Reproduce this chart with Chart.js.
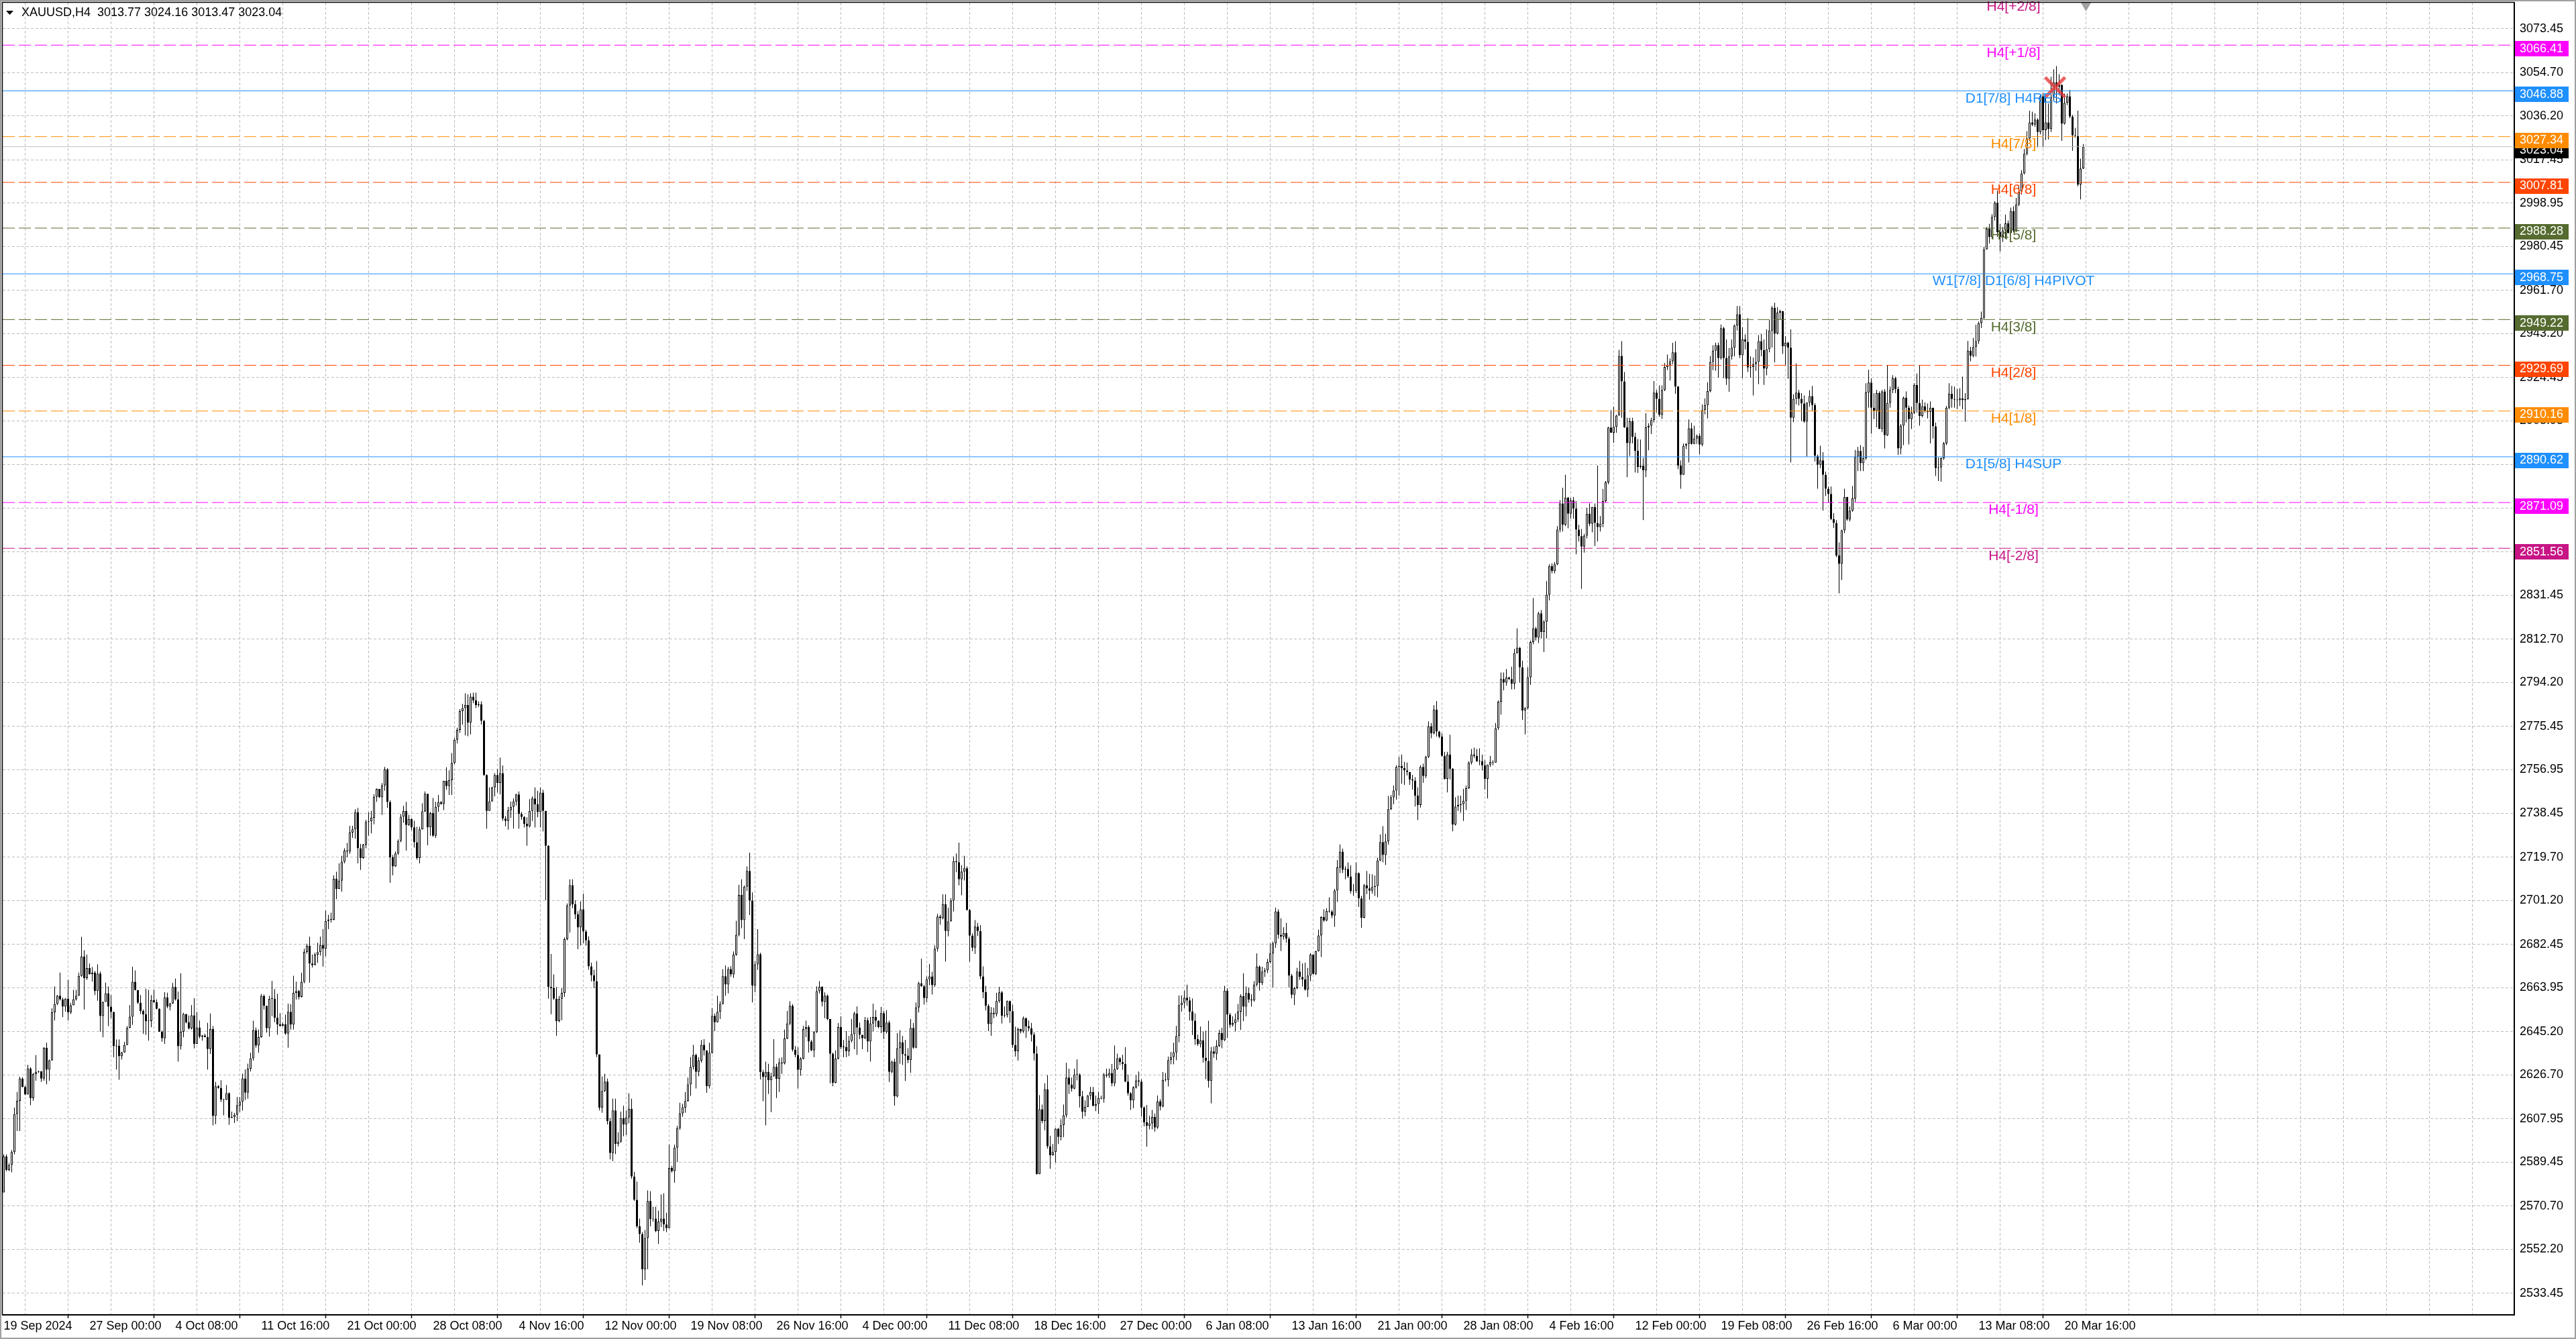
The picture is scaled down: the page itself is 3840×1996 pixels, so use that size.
<!DOCTYPE html>
<html>
<head>
<meta charset="utf-8">
<title>XAUUSD,H4</title>
<script src="https://cdn.jsdelivr.net/npm/chart.js@4.4.1/dist/chart.umd.min.js"></script>
<style>
    html, body { margin: 0; padding: 0; background: #ffffff; overflow: hidden; }
    #wrap { width: 3840px; height: 1996px; }
</style>
</head>
<body>
<div id="wrap"><canvas id="myChart" width="3840" height="1996"></canvas></div>
<script>
// symbol, timeframe and the current bar
const symbol = 'XAUUSD';
const timeframe = 'H4';
const firstOpen = 2582.0;
const lastOpen = 3013.77;

// H4 closes, one per bar (bar 0 = 19 Sep 2024 12:00)
const closes = [
    2576.5,
    2591.8, 2586.1, 2588.2, 2593.7, 2609.9, 2615.6, 2625.1, 2621.5, 2618.3, 2629.4,
    2616.7, 2627.0, 2628.0, 2628.2, 2625.1, 2638.2, 2628.9, 2632.9, 2653.4, 2657.0,
    2660.5, 2658.9, 2655.8, 2659.2, 2653.4, 2656.4, 2658.9, 2660.5, 2668.9, 2677.2,
    2668.0, 2672.3, 2669.7, 2670.4, 2662.5, 2669.9, 2651.8, 2657.8, 2661.5, 2655.8,
    2653.5, 2638.9, 2639.1, 2634.6, 2636.3, 2639.4, 2646.7, 2651.5, 2666.4, 2662.9,
    2657.5, 2654.0, 2652.5, 2649.5, 2649.7, 2658.6, 2657.7, 2654.9, 2645.1, 2642.3,
    2659.8, 2655.8, 2657.2, 2664.2, 2658.9, 2638.9, 2645.1, 2652.7, 2649.1, 2646.5,
    2652.1, 2639.9, 2646.9, 2642.9, 2643.5, 2642.8, 2637.7, 2646.2, 2609.1, 2621.8,
    2621.1, 2616.1, 2616.0, 2618.9, 2608.4, 2608.6, 2609.6, 2613.6, 2615.2, 2625.1,
    2619.1, 2629.3, 2633.8, 2645.7, 2639.2, 2642.8, 2660.4, 2656.2, 2646.6, 2659.1,
    2659.1, 2651.1, 2648.2, 2647.6, 2648.2, 2644.3, 2653.6, 2648.2, 2661.7, 2662.5,
    2660.0, 2666.4, 2679.2, 2681.8, 2674.2, 2673.5, 2678.0, 2679.1, 2682.1, 2680.5,
    2692.4, 2692.9, 2692.9, 2710.4, 2706.1, 2709.6, 2717.7, 2722.4, 2722.1, 2730.2,
    2731.5, 2738.8, 2723.4, 2719.3, 2725.0, 2734.7, 2735.0, 2736.5, 2745.4, 2748.8,
    2745.2, 2750.3, 2757.1, 2743.2, 2719.6, 2715.7, 2721.2, 2726.6, 2736.9, 2739.3,
    2733.4, 2736.0, 2732.4, 2726.0, 2719.3, 2731.5, 2739.2, 2746.7, 2732.4, 2738.5,
    2728.8, 2741.1, 2743.1, 2742.4, 2752.2, 2750.0, 2752.5, 2759.9, 2769.8, 2774.0,
    2782.0, 2783.3, 2784.6, 2777.1, 2788.2, 2786.6, 2784.6, 2784.9, 2777.9, 2754.7,
    2739.4, 2743.4, 2749.4, 2754.7, 2751.4, 2755.5, 2736.1, 2735.1, 2739.7, 2741.1,
    2743.4, 2746.4, 2738.1, 2736.8, 2733.9, 2732.8, 2739.4, 2744.7, 2742.2, 2738.9,
    2747.2, 2739.4, 2724.5, 2664.2, 2663.7, 2659.2, 2649.7, 2659.2, 2661.7, 2684.6,
    2699.0, 2707.7, 2699.5, 2695.2, 2689.6, 2697.4, 2687.9, 2684.1, 2673.0, 2669.2,
    2666.7, 2635.4, 2612.7, 2619.8, 2623.8, 2606.9, 2593.3, 2611.5, 2597.2, 2598.2,
    2608.2, 2605.5, 2608.5, 2612.2, 2583.3, 2573.3, 2562.0, 2558.7, 2543.7, 2557.0,
    2572.8, 2565.0, 2565.3, 2560.0, 2564.0, 2565.3, 2562.8, 2561.2, 2586.9, 2585.6,
    2595.6, 2603.9, 2610.2, 2612.7, 2615.5, 2622.6, 2630.1, 2635.2, 2628.0, 2632.8,
    2639.5, 2637.1, 2621.8, 2636.1, 2651.9, 2649.2, 2653.6, 2657.0, 2668.8, 2665.3,
    2671.9, 2669.6, 2678.0, 2686.5, 2703.5, 2692.8, 2707.0, 2713.8, 2701.1, 2664.8,
    2673.9, 2678.2, 2627.8, 2625.9, 2628.0, 2624.4, 2626.1, 2630.1, 2625.0, 2632.0,
    2631.6, 2642.2, 2648.6, 2656.2, 2637.4, 2635.2, 2628.8, 2633.6, 2646.2, 2647.1,
    2640.9, 2637.1, 2645.0, 2662.4, 2664.3, 2657.8, 2660.5, 2650.5, 2635.7, 2623.3,
    2633.6, 2647.1, 2638.5, 2638.5, 2636.8, 2641.2, 2644.1, 2652.9, 2646.9, 2643.8,
    2642.3, 2650.0, 2640.9, 2648.6, 2651.4, 2649.8, 2647.1, 2653.0, 2645.0, 2649.0,
    2628.0, 2632.3, 2617.5, 2638.1, 2640.6, 2635.5, 2634.9, 2633.0, 2646.7, 2638.3,
    2655.5, 2665.8, 2664.5, 2659.5, 2667.5, 2668.7, 2665.0, 2680.5, 2694.3, 2693.6,
    2699.6, 2688.1, 2692.2, 2701.1, 2717.9, 2717.5, 2710.2, 2713.5, 2714.9, 2697.1,
    2686.1, 2681.0, 2690.0, 2688.1, 2668.7, 2662.0, 2656.2, 2648.4, 2653.2, 2652.6,
    2658.2, 2661.9, 2651.9, 2652.2, 2658.2, 2653.9, 2639.4, 2636.8, 2646.2, 2645.2,
    2650.9, 2647.4, 2646.6, 2643.9, 2635.8, 2584.3, 2612.0, 2607.0, 2620.5, 2596.2,
    2592.4, 2593.7, 2603.7, 2600.2, 2605.2, 2609.4, 2625.5, 2622.5, 2620.8, 2626.8,
    2626.8, 2617.5, 2611.0, 2613.0, 2617.8, 2619.3, 2613.4, 2614.2, 2616.8, 2616.5,
    2626.8, 2626.3, 2627.5, 2623.1, 2629.1, 2633.8, 2632.1, 2631.3, 2623.8, 2618.8,
    2615.8, 2621.3, 2624.3, 2623.8, 2612.7, 2606.4, 2605.0, 2606.0, 2608.7, 2604.2,
    2615.3, 2613.2, 2624.5, 2624.5, 2633.0, 2634.3, 2636.3, 2643.2, 2656.5, 2657.5,
    2659.6, 2658.5, 2653.7, 2649.8, 2641.9, 2639.8, 2641.4, 2634.0, 2632.6, 2624.1,
    2636.7, 2635.7, 2639.1, 2644.5, 2641.5, 2662.6, 2652.4, 2648.0, 2648.8, 2650.4,
    2653.7, 2660.3, 2655.8, 2661.6, 2658.8, 2658.5, 2665.2, 2672.9, 2666.0, 2670.8,
    2671.3, 2674.9, 2678.5, 2682.8, 2696.4, 2686.5, 2685.7, 2687.2, 2684.8, 2669.1,
    2660.9, 2663.7, 2670.8, 2668.5, 2667.4, 2663.1, 2669.1, 2678.0, 2669.8, 2679.5,
    2686.2, 2694.1, 2692.6, 2696.7, 2696.4, 2694.7, 2705.4, 2715.3, 2722.0, 2714.3,
    2714.6, 2711.4, 2705.1, 2705.3, 2712.8, 2702.0, 2693.8, 2707.7, 2706.3, 2705.3,
    2706.9, 2707.3, 2718.2, 2726.1, 2720.6, 2726.4, 2740.1, 2745.2, 2748.1, 2758.2,
    2758.6, 2757.7, 2756.7, 2756.0, 2752.8, 2752.4, 2745.9, 2741.9, 2758.2, 2754.3,
    2762.5, 2775.5, 2772.6, 2782.7, 2773.3, 2771.1, 2762.9, 2753.1, 2763.5, 2757.4,
    2733.6, 2741.3, 2741.9, 2742.3, 2743.7, 2749.1, 2760.0, 2763.5, 2762.9, 2760.6,
    2760.6, 2758.9, 2753.1, 2759.2, 2760.3, 2760.0, 2774.7, 2786.0, 2795.7, 2794.2,
    2796.4, 2795.7, 2793.8, 2806.8, 2809.1, 2800.7, 2782.2, 2783.4, 2796.4, 2811.5,
    2817.3, 2813.4, 2823.8, 2815.8, 2820.2, 2831.7, 2844.0, 2841.8, 2844.7, 2859.5,
    2870.7, 2861.6, 2873.1, 2866.3, 2872.0, 2868.5, 2859.5, 2856.7, 2852.3, 2856.9,
    2866.3, 2862.0, 2869.2, 2862.4, 2860.6, 2862.0, 2871.7, 2879.7, 2903.1, 2900.9,
    2903.4, 2908.2, 2933.7, 2922.8, 2903.2, 2896.5, 2905.8, 2899.1, 2893.2, 2886.3,
    2886.8, 2884.8, 2903.2, 2903.9, 2906.3, 2918.0, 2915.4, 2908.5, 2919.2, 2929.0,
    2929.9, 2931.4, 2935.2, 2920.6, 2886.9, 2882.9, 2895.3, 2896.1, 2902.8, 2896.1,
    2898.4, 2899.6, 2895.8, 2910.6, 2912.7, 2918.7, 2931.1, 2935.9, 2938.3, 2932.8,
    2945.5, 2932.8, 2924.0, 2933.5, 2937.2, 2946.7, 2951.5, 2934.0, 2940.7, 2939.7,
    2928.8, 2929.0, 2930.2, 2931.1, 2940.0, 2936.2, 2928.3, 2936.6, 2944.5, 2954.3,
    2943.3, 2952.2, 2952.8, 2937.8, 2939.3, 2937.2, 2907.3, 2915.4, 2918.0, 2915.4,
    2913.4, 2905.6, 2913.7, 2916.5, 2912.7, 2891.0, 2887.2, 2889.1, 2882.9, 2877.0,
    2874.8, 2864.0, 2862.4, 2848.5, 2844.9, 2859.2, 2873.5, 2863.8, 2867.6, 2872.8,
    2890.7, 2893.1, 2887.9, 2890.0, 2918.1, 2922.3, 2911.6, 2910.2, 2917.8, 2902.5,
    2918.5, 2899.8, 2913.6, 2919.2, 2924.1, 2919.5, 2894.2, 2903.9, 2915.8, 2911.6,
    2906.7, 2909.5, 2921.3, 2913.6, 2908.1, 2912.2, 2910.2, 2909.8, 2911.6, 2903.6,
    2885.8, 2886.1, 2890.0, 2896.3, 2911.6, 2917.5, 2915.3, 2915.0, 2914.8, 2915.6,
    2914.8, 2915.3, 2935.9, 2933.8, 2937.5, 2940.0, 2947.7, 2950.0, 2979.2, 2988.0,
    2984.5, 2993.1, 2999.1, 2986.6, 2984.5, 2987.3, 2990.3, 2986.2, 2995.6, 2987.3,
    2998.4, 3003.9, 3011.6, 3020.0, 3026.5, 3033.4, 3032.5, 3034.6, 3029.3, 3044.6,
    3030.1, 3033.4, 3030.6, 3044.3, 3050.5, 3048.7, 3049.5, 3032.9, 3041.8, 3044.6,
    3035.9, 3027.9, 3027.6, 3006.8, 3013.7, 3023.04
];

const highs = [
    2583.0,
    2592.7, 2592.7, 2588.9, 2594.6, 2612.7, 2619.4, 2625.9, 2625.6, 2622.1, 2631.0,
    2629.9, 2627.5, 2635.1, 2628.5, 2628.0, 2638.5, 2640.4, 2633.2, 2655.1, 2664.4,
    2660.8, 2670.4, 2659.6, 2659.4, 2667.3, 2657.5, 2663.0, 2663.0, 2670.4, 2685.6,
    2679.9, 2678.0, 2674.2, 2672.7, 2671.0, 2673.9, 2670.8, 2658.0, 2666.1, 2664.4,
    2660.8, 2653.7, 2641.8, 2641.8, 2636.5, 2640.8, 2647.5, 2656.5, 2672.9, 2671.3,
    2662.7, 2660.8, 2654.6, 2663.4, 2663.0, 2660.8, 2663.0, 2658.9, 2655.1, 2645.6,
    2662.0, 2661.8, 2657.5, 2665.9, 2667.8, 2662.3, 2670.1, 2653.2, 2651.3, 2652.0,
    2656.5, 2659.4, 2653.5, 2649.9, 2643.7, 2644.2, 2648.9, 2652.9, 2647.5, 2623.7,
    2622.3, 2624.4, 2616.5, 2622.3, 2619.2, 2611.0, 2610.4, 2617.2, 2617.2, 2627.2,
    2629.0, 2631.5, 2636.1, 2649.8, 2646.9, 2646.0, 2661.2, 2661.0, 2652.0, 2660.4,
    2666.8, 2663.3, 2661.3, 2653.0, 2648.9, 2652.4, 2657.1, 2656.9, 2669.0, 2666.5,
    2663.0, 2670.3, 2680.5, 2682.7, 2685.7, 2678.0, 2678.9, 2683.1, 2685.7, 2688.9,
    2696.8, 2695.0, 2695.9, 2711.9, 2713.4, 2717.0, 2720.2, 2723.4, 2725.7, 2733.0,
    2733.0, 2740.1, 2740.7, 2725.3, 2725.3, 2735.6, 2738.8, 2739.4, 2746.5, 2749.0,
    2748.4, 2751.3, 2758.2, 2757.7, 2743.9, 2720.6, 2722.1, 2727.2, 2738.1, 2741.6,
    2743.3, 2737.7, 2736.2, 2735.2, 2732.6, 2732.6, 2742.6, 2747.7, 2739.0, 2739.0,
    2744.9, 2743.3, 2746.2, 2743.6, 2752.2, 2758.0, 2756.7, 2764.1, 2770.5, 2774.9,
    2782.9, 2785.1, 2789.6, 2789.2, 2789.6, 2789.9, 2789.9, 2786.2, 2786.2, 2778.3,
    2755.0, 2749.4, 2749.7, 2755.5, 2757.2, 2762.2, 2758.8, 2737.2, 2741.1, 2743.4,
    2744.7, 2746.7, 2747.7, 2738.9, 2737.2, 2736.7, 2744.4, 2745.6, 2749.4, 2748.0,
    2749.4, 2748.4, 2739.4, 2724.8, 2678.3, 2669.6, 2664.2, 2660.4, 2663.7, 2685.3,
    2699.9, 2710.2, 2710.2, 2701.2, 2696.6, 2700.7, 2704.0, 2688.6, 2685.8, 2674.6,
    2671.6, 2675.3, 2635.4, 2626.0, 2627.1, 2625.1, 2608.2, 2616.5, 2616.5, 2602.2,
    2611.0, 2613.5, 2611.5, 2618.8, 2616.5, 2585.3, 2581.1, 2565.3, 2559.5, 2560.4,
    2577.3, 2577.0, 2570.3, 2570.3, 2568.7, 2575.6, 2576.1, 2567.8, 2596.9, 2587.8,
    2596.9, 2604.9, 2614.8, 2614.3, 2619.3, 2625.5, 2634.3, 2639.5, 2635.7, 2634.2,
    2641.6, 2641.9, 2637.1, 2640.4, 2655.2, 2652.9, 2660.5, 2658.1, 2671.8, 2673.4,
    2672.7, 2673.1, 2679.4, 2692.5, 2707.8, 2710.2, 2707.5, 2715.7, 2721.6, 2704.6,
    2675.3, 2688.9, 2678.8, 2628.8, 2632.3, 2631.4, 2627.6, 2641.9, 2631.4, 2633.8,
    2634.2, 2646.0, 2654.0, 2658.1, 2656.9, 2639.0, 2638.5, 2634.2, 2647.6, 2649.8,
    2647.9, 2641.6, 2645.4, 2664.5, 2666.7, 2664.5, 2661.9, 2661.0, 2650.2, 2636.2,
    2637.1, 2648.8, 2651.7, 2641.6, 2645.4, 2643.3, 2650.5, 2653.6, 2655.9, 2649.0,
    2643.8, 2651.4, 2651.1, 2651.4, 2657.1, 2654.3, 2650.0, 2655.7, 2654.0, 2654.3,
    2649.8, 2632.8, 2633.6, 2644.5, 2645.7, 2643.3, 2641.6, 2638.1, 2650.5, 2648.8,
    2657.6, 2666.4, 2676.3, 2665.1, 2668.7, 2674.0, 2670.7, 2682.0, 2695.4, 2695.1,
    2703.8, 2703.8, 2698.1, 2702.1, 2719.9, 2721.2, 2725.9, 2716.2, 2720.2, 2715.7,
    2697.6, 2687.1, 2692.8, 2691.6, 2690.6, 2673.0, 2664.7, 2656.9, 2655.6, 2655.4,
    2661.7, 2664.3, 2662.5, 2655.9, 2658.4, 2658.4, 2656.6, 2647.2, 2646.9, 2646.4,
    2651.6, 2651.2, 2649.9, 2648.9, 2644.9, 2638.9, 2618.0, 2614.0, 2623.1, 2626.5,
    2600.7, 2597.2, 2604.0, 2604.0, 2607.7, 2614.0, 2631.8, 2629.3, 2625.5, 2629.3,
    2633.3, 2627.3, 2619.8, 2615.8, 2618.1, 2621.5, 2621.5, 2617.8, 2619.5, 2617.8,
    2627.5, 2629.3, 2629.3, 2631.3, 2639.2, 2635.8, 2634.3, 2635.3, 2638.5, 2626.8,
    2619.3, 2621.8, 2626.5, 2628.1, 2624.8, 2613.2, 2613.8, 2609.2, 2611.7, 2610.2,
    2617.9, 2616.3, 2627.9, 2627.5, 2634.5, 2636.5, 2640.4, 2647.6, 2660.6, 2660.6,
    2662.6, 2665.2, 2659.9, 2659.3, 2652.9, 2643.9, 2647.3, 2645.2, 2645.5, 2649.8,
    2638.6, 2638.8, 2641.5, 2645.9, 2646.8, 2664.7, 2663.7, 2653.1, 2651.7, 2652.9,
    2657.0, 2661.1, 2670.1, 2664.4, 2663.9, 2661.1, 2666.7, 2678.5, 2673.4, 2672.9,
    2672.3, 2676.2, 2682.8, 2683.6, 2698.1, 2697.4, 2693.6, 2689.7, 2691.6, 2685.6,
    2669.8, 2664.2, 2672.4, 2675.4, 2674.2, 2674.6, 2672.4, 2678.7, 2677.7, 2679.7,
    2688.7, 2694.4, 2697.4, 2697.9, 2702.5, 2697.1, 2706.1, 2718.4, 2725.1, 2723.3,
    2715.8, 2717.4, 2716.1, 2708.2, 2717.4, 2713.1, 2703.1, 2708.2, 2713.8, 2712.5,
    2712.3, 2711.8, 2719.4, 2729.4, 2732.9, 2729.6, 2745.8, 2746.2, 2750.2, 2758.9,
    2762.5, 2763.5, 2760.3, 2760.0, 2755.7, 2754.8, 2753.8, 2749.5, 2758.9, 2759.6,
    2762.9, 2777.6, 2776.9, 2784.5, 2786.3, 2773.6, 2772.6, 2764.6, 2764.6, 2771.9,
    2757.7, 2745.2, 2745.9, 2745.9, 2748.8, 2750.2, 2760.6, 2765.8, 2766.4, 2765.8,
    2766.1, 2763.5, 2761.0, 2759.2, 2762.9, 2761.0, 2776.9, 2786.6, 2798.5, 2798.5,
    2800.0, 2796.7, 2801.0, 2808.6, 2817.3, 2809.4, 2803.6, 2783.7, 2800.7, 2812.2,
    2830.3, 2818.0, 2824.5, 2825.2, 2820.9, 2837.5, 2844.7, 2845.1, 2845.7, 2861.0,
    2872.1, 2877.4, 2882.9, 2873.5, 2873.1, 2873.5, 2871.7, 2861.6, 2859.8, 2857.7,
    2868.8, 2870.7, 2869.2, 2870.7, 2886.9, 2865.3, 2876.9, 2880.3, 2903.4, 2910.6,
    2912.0, 2908.6, 2936.3, 2940.0, 2926.8, 2907.3, 2907.3, 2907.3, 2900.9, 2898.2,
    2898.0, 2890.1, 2909.2, 2904.9, 2907.3, 2923.0, 2919.2, 2921.1, 2921.1, 2930.6,
    2934.3, 2932.6, 2939.3, 2940.0, 2920.9, 2889.1, 2896.3, 2896.5, 2906.6, 2905.1,
    2903.9, 2900.1, 2900.6, 2913.0, 2915.6, 2922.5, 2933.7, 2938.3, 2939.4, 2939.4,
    2947.1, 2946.1, 2940.7, 2937.1, 2940.7, 2947.1, 2955.0, 2955.0, 2945.9, 2942.9,
    2949.8, 2933.5, 2933.0, 2936.6, 2942.6, 2943.1, 2940.7, 2945.0, 2949.0, 2955.0,
    2956.4, 2954.5, 2953.4, 2949.8, 2942.1, 2939.7, 2945.0, 2917.3, 2930.5, 2919.2,
    2917.8, 2916.8, 2913.9, 2919.0, 2920.9, 2913.5, 2891.5, 2895.3, 2892.6, 2884.3,
    2877.9, 2877.9, 2866.5, 2863.6, 2854.1, 2859.5, 2877.0, 2873.4, 2869.5, 2878.1,
    2893.5, 2894.9, 2895.6, 2894.9, 2922.0, 2927.8, 2924.1, 2917.8, 2919.2, 2918.5,
    2919.2, 2919.5, 2929.6, 2920.6, 2925.5, 2924.8, 2920.6, 2904.6, 2916.4, 2918.5,
    2912.5, 2912.0, 2922.0, 2926.2, 2929.6, 2915.0, 2913.9, 2913.4, 2914.3, 2911.6,
    2905.3, 2890.3, 2890.3, 2897.0, 2912.3, 2922.0, 2920.9, 2920.6, 2919.5, 2919.9,
    2924.8, 2917.8, 2940.1, 2937.6, 2941.4, 2947.0, 2948.4, 2952.6, 2980.3, 2988.7,
    2990.1, 2994.2, 2999.8, 3004.3, 2990.1, 2988.7, 2994.0, 2991.5, 2997.0, 2997.7,
    3001.2, 3006.1, 3013.0, 3022.0, 3029.7, 3038.4, 3038.0, 3037.3, 3035.2, 3045.0,
    3046.0, 3044.3, 3041.5, 3052.9, 3056.1, 3057.5, 3054.0, 3042.9, 3045.7, 3045.7,
    3047.3, 3036.6, 3031.1, 3038.4, 3017.9, 3024.16
];

const lows = [
    2569.9,
    2576.5, 2585.6, 2585.6, 2585.1, 2592.7, 2602.7, 2602.7, 2621.3, 2618.0, 2618.3,
    2613.7, 2615.6, 2624.2, 2627.5, 2623.7, 2624.2, 2622.7, 2624.2, 2632.7, 2649.9,
    2656.5, 2658.4, 2651.3, 2653.7, 2649.9, 2652.7, 2656.7, 2658.4, 2660.4, 2668.5,
    2654.6, 2667.2, 2669.4, 2666.5, 2660.8, 2658.3, 2645.1, 2642.7, 2660.8, 2647.5,
    2650.8, 2634.2, 2628.9, 2624.6, 2633.2, 2636.1, 2639.4, 2646.5, 2648.0, 2662.7,
    2657.0, 2652.7, 2644.2, 2643.7, 2641.3, 2647.0, 2657.5, 2654.6, 2645.1, 2640.8,
    2639.9, 2655.1, 2654.2, 2657.0, 2658.4, 2632.3, 2637.5, 2642.7, 2648.7, 2646.1,
    2646.1, 2638.0, 2639.9, 2642.3, 2641.3, 2642.7, 2628.9, 2635.6, 2605.1, 2605.6,
    2620.8, 2615.1, 2609.4, 2616.1, 2605.3, 2608.2, 2606.1, 2606.9, 2610.8, 2611.4,
    2615.9, 2616.5, 2628.1, 2632.8, 2638.3, 2636.1, 2642.5, 2654.6, 2644.7, 2643.0,
    2651.7, 2649.2, 2643.8, 2647.2, 2647.4, 2643.8, 2638.3, 2646.0, 2646.0, 2658.8,
    2658.8, 2659.7, 2665.8, 2678.4, 2666.1, 2672.5, 2673.5, 2674.5, 2677.6, 2672.9,
    2677.3, 2688.9, 2691.7, 2692.7, 2701.7, 2706.1, 2704.9, 2717.0, 2719.6, 2721.1,
    2727.9, 2727.5, 2717.0, 2714.2, 2718.9, 2723.4, 2728.8, 2729.8, 2733.7, 2743.3,
    2744.9, 2737.7, 2748.0, 2740.7, 2708.7, 2711.9, 2715.5, 2720.6, 2726.0, 2734.3,
    2722.4, 2733.0, 2731.1, 2723.7, 2718.6, 2717.0, 2731.4, 2738.8, 2724.7, 2728.8,
    2728.3, 2727.9, 2739.0, 2742.0, 2739.8, 2748.4, 2746.2, 2746.2, 2759.3, 2768.2,
    2772.7, 2776.2, 2771.6, 2771.3, 2772.1, 2785.4, 2783.3, 2783.8, 2776.3, 2754.3,
    2731.8, 2739.4, 2743.9, 2745.6, 2747.2, 2746.4, 2735.1, 2732.8, 2731.4, 2736.4,
    2731.8, 2741.7, 2731.8, 2735.6, 2732.3, 2724.5, 2732.3, 2735.1, 2732.3, 2736.7,
    2732.3, 2730.6, 2701.2, 2659.2, 2652.5, 2658.7, 2643.4, 2649.2, 2650.0, 2660.0,
    2684.1, 2687.4, 2697.9, 2693.2, 2680.3, 2681.9, 2682.9, 2681.9, 2671.6, 2666.6,
    2663.7, 2634.3, 2611.5, 2610.5, 2619.3, 2605.5, 2590.6, 2589.9, 2592.8, 2596.1,
    2597.7, 2600.5, 2601.0, 2606.0, 2582.3, 2572.8, 2561.2, 2555.0, 2536.8, 2539.1,
    2543.7, 2562.0, 2564.0, 2559.5, 2554.5, 2561.7, 2560.0, 2559.5, 2567.3, 2584.9,
    2580.6, 2589.4, 2603.2, 2608.8, 2610.5, 2615.2, 2617.7, 2629.0, 2620.9, 2626.1,
    2631.8, 2634.9, 2619.0, 2620.9, 2635.7, 2645.4, 2649.0, 2650.5, 2656.7, 2660.5,
    2661.5, 2668.6, 2668.1, 2677.5, 2685.8, 2689.3, 2684.6, 2705.2, 2694.9, 2657.6,
    2661.9, 2671.5, 2624.7, 2615.4, 2605.1, 2618.5, 2610.8, 2625.9, 2616.8, 2619.4,
    2627.1, 2631.1, 2641.9, 2647.9, 2636.6, 2634.2, 2620.9, 2626.3, 2633.3, 2642.8,
    2636.2, 2636.8, 2634.2, 2644.5, 2661.5, 2655.9, 2650.8, 2650.0, 2623.1, 2621.8,
    2623.1, 2633.3, 2637.6, 2634.2, 2634.2, 2634.7, 2640.6, 2637.6, 2635.2, 2641.9,
    2637.6, 2641.9, 2636.4, 2632.3, 2645.2, 2647.1, 2646.6, 2644.5, 2641.9, 2644.3,
    2623.7, 2627.3, 2613.5, 2617.0, 2631.4, 2630.9, 2624.0, 2631.7, 2627.6, 2637.8,
    2638.1, 2653.3, 2664.3, 2656.7, 2657.6, 2665.0, 2661.0, 2664.3, 2679.3, 2690.8,
    2693.1, 2675.0, 2685.8, 2694.4, 2696.4, 2713.2, 2707.6, 2703.4, 2709.7, 2696.8,
    2675.0, 2679.5, 2678.3, 2686.0, 2667.5, 2659.4, 2654.2, 2645.4, 2643.4, 2650.9,
    2651.6, 2657.4, 2648.6, 2651.2, 2651.2, 2648.9, 2638.2, 2634.5, 2632.8, 2644.4,
    2644.6, 2642.4, 2645.4, 2640.9, 2632.8, 2584.1, 2586.3, 2606.0, 2603.0, 2595.2,
    2586.6, 2592.2, 2589.3, 2597.2, 2598.7, 2600.0, 2608.4, 2618.5, 2619.5, 2620.5,
    2624.3, 2612.7, 2608.0, 2609.0, 2613.5, 2616.1, 2613.2, 2611.2, 2610.0, 2616.3,
    2614.8, 2625.5, 2625.3, 2621.8, 2621.8, 2628.8, 2630.8, 2628.8, 2623.5, 2617.8,
    2611.7, 2612.4, 2620.8, 2621.8, 2609.0, 2604.7, 2596.0, 2603.4, 2603.4, 2602.4,
    2603.6, 2611.5, 2612.8, 2623.8, 2621.7, 2631.2, 2631.2, 2632.9, 2640.6, 2653.7,
    2655.2, 2656.2, 2649.9, 2643.7, 2639.4, 2639.1, 2638.4, 2631.9, 2624.8, 2621.2,
    2614.5, 2634.0, 2633.0, 2638.6, 2638.1, 2641.1, 2642.5, 2646.8, 2647.3, 2645.2,
    2649.3, 2645.9, 2649.6, 2651.7, 2657.5, 2655.8, 2658.0, 2664.4, 2662.6, 2665.0,
    2668.5, 2670.1, 2674.2, 2664.0, 2681.0, 2684.8, 2679.5, 2684.4, 2683.1, 2664.0,
    2659.3, 2656.5, 2663.3, 2667.2, 2664.4, 2662.6, 2659.9, 2666.7, 2669.5, 2669.3,
    2679.3, 2677.0, 2692.0, 2692.3, 2695.9, 2693.6, 2689.9, 2700.5, 2712.8, 2712.8,
    2710.2, 2710.7, 2704.1, 2703.1, 2704.3, 2698.4, 2689.5, 2693.6, 2703.9, 2701.5,
    2704.1, 2703.1, 2702.5, 2717.9, 2717.4, 2716.3, 2725.0, 2739.8, 2742.3, 2744.2,
    2745.9, 2751.0, 2750.5, 2754.5, 2750.5, 2748.5, 2741.3, 2735.5, 2740.8, 2751.4,
    2753.4, 2762.0, 2770.4, 2772.1, 2771.1, 2770.4, 2762.5, 2752.8, 2747.3, 2752.8,
    2730.7, 2733.2, 2739.4, 2738.7, 2735.1, 2739.8, 2748.8, 2759.2, 2762.0, 2760.3,
    2758.9, 2756.7, 2748.5, 2744.7, 2758.2, 2758.9, 2760.3, 2774.0, 2780.5, 2790.9,
    2792.8, 2795.2, 2791.3, 2791.3, 2806.5, 2794.2, 2778.3, 2772.1, 2782.7, 2793.2,
    2810.5, 2812.2, 2811.1, 2813.0, 2807.2, 2813.0, 2829.3, 2840.8, 2840.8, 2844.3,
    2858.4, 2858.7, 2861.0, 2860.1, 2864.2, 2864.2, 2849.0, 2854.4, 2834.2, 2849.7,
    2855.8, 2861.0, 2858.4, 2852.6, 2854.4, 2858.7, 2860.6, 2871.1, 2878.9, 2900.9,
    2896.6, 2900.9, 2909.6, 2907.3, 2903.0, 2881.9, 2891.0, 2896.3, 2883.9, 2883.7,
    2885.6, 2863.6, 2881.9, 2893.4, 2900.3, 2905.3, 2909.6, 2907.7, 2906.8, 2918.7,
    2927.6, 2923.2, 2930.2, 2917.5, 2885.3, 2877.0, 2887.9, 2893.9, 2888.2, 2895.8,
    2896.3, 2896.1, 2891.7, 2895.1, 2908.7, 2907.0, 2918.2, 2927.6, 2927.3, 2924.5,
    2932.1, 2924.2, 2921.3, 2918.4, 2932.1, 2933.5, 2944.5, 2932.8, 2924.2, 2936.4,
    2926.8, 2924.5, 2916.8, 2927.3, 2921.6, 2933.5, 2921.3, 2925.4, 2935.2, 2937.3,
    2930.9, 2942.9, 2949.3, 2934.6, 2929.7, 2924.0, 2888.2, 2905.4, 2913.0, 2912.6,
    2905.8, 2905.1, 2890.7, 2912.0, 2910.1, 2888.6, 2877.0, 2885.8, 2867.6, 2873.8,
    2871.0, 2863.6, 2860.2, 2847.8, 2832.3, 2838.0, 2858.0, 2863.3, 2863.0, 2867.2,
    2871.3, 2884.5, 2884.5, 2884.5, 2889.3, 2911.6, 2900.5, 2906.7, 2903.2, 2902.5,
    2901.1, 2894.2, 2899.5, 2911.6, 2917.8, 2917.8, 2891.4, 2891.7, 2895.6, 2905.3,
    2895.9, 2902.5, 2908.8, 2909.5, 2903.9, 2907.4, 2909.5, 2907.0, 2896.3, 2898.4,
    2882.4, 2880.3, 2880.0, 2889.3, 2895.6, 2910.9, 2911.6, 2911.6, 2910.9, 2912.3,
    2910.9, 2905.6, 2915.0, 2931.4, 2933.1, 2933.4, 2938.9, 2945.6, 2949.5, 2979.2,
    2981.7, 2983.8, 2991.5, 2984.5, 2978.3, 2982.4, 2983.8, 2985.9, 2985.9, 2986.6,
    2986.6, 2997.7, 3002.6, 3011.2, 3019.3, 3025.5, 3031.8, 3031.5, 3022.7, 3028.3,
    3022.7, 3025.9, 3026.2, 3029.3, 3042.9, 3041.5, 3045.7, 3025.5, 3032.5, 3040.8,
    3035.2, 3021.3, 3026.9, 3006.1, 3000.5, 3013.47
];

// time axis labels, one every 32 bars starting at bar 1
const timeLabels = [
    '19 Sep 2024', '27 Sep 00:00', '4 Oct 08:00', '11 Oct 16:00', '21 Oct 00:00',
    '28 Oct 08:00', '4 Nov 16:00', '12 Nov 00:00', '19 Nov 08:00', '26 Nov 16:00',
    '4 Dec 00:00', '11 Dec 08:00', '18 Dec 16:00', '27 Dec 00:00', '6 Jan 08:00',
    '13 Jan 16:00', '21 Jan 00:00', '28 Jan 08:00', '4 Feb 16:00', '12 Feb 00:00',
    '19 Feb 08:00', '26 Feb 16:00', '6 Mar 00:00', '13 Mar 08:00', '20 Mar 16:00'
];

// price axis labels
const priceTicks = [
    3073.45, 3054.70, 3036.20, 3017.45, 2998.95, 2980.45, 2961.70, 2943.20, 2924.45, 2905.95,
    2887.20, 2868.70, 2850.20, 2831.45, 2812.70, 2794.20, 2775.45, 2756.95, 2738.45, 2719.70,
    2701.20, 2682.45, 2663.95, 2645.20, 2626.70, 2607.95, 2589.45, 2570.70, 2552.20, 2533.45
];

// Murrey levels drawn on the chart
const levelPrices = [3085.94, 3066.41, 3046.88, 3027.34, 3007.81, 2988.28, 2968.75,
    2949.22, 2929.69, 2910.16, 2890.62, 2871.09, 2851.56];
const levelNames = ['H4[+2/8]', 'H4[+1/8]', 'D1[7/8] H4RES', 'H4[7/8]', 'H4[6/8]', 'H4[5/8]',
    'W1[7/8] D1[6/8] H4PIVOT', 'H4[3/8]', 'H4[2/8]', 'H4[1/8]', 'D1[5/8] H4SUP', 'H4[-1/8]', 'H4[-2/8]'];

// marks: the red cross at the top and the shift triangle
const crossBar = [765.5];
const crossPrice = [3048.4];
const shiftBar = [777];
const shiftPrice = [3083.4];

// styles
const levelColors = ['#C71585', '#FF00FF', '#1E90FF', '#FF8C00', '#FF4500', '#556B2F', '#1E90FF',
    '#556B2F', '#FF4500', '#FF8C00', '#1E90FF', '#FF00FF', '#C71585'];
const levelSolid = [false, false, true, false, false, false, true, false, false, false, true, false, false];
const FONT = '"Liberation Sans", Arial, sans-serif';
const xMin = 0.625, xMax = 936.625;
const yMin = 2524.19, yMax = 3084.54;
const labelBar = 750;

Chart.defaults.font.family = FONT;

const last = closes.length - 1;
const opens = closes.map((c, i) => i === 0 ? firstOpen : (i === last ? lastOpen : closes[i - 1]));

function getBodies() {
    return closes.map((c, i) => ({ x: i, y: [opens[i], c] }));
}

function getWicks() {
    return closes.map((c, i) => {
        let h = highs[i] !== undefined ? highs[i] : c;
        let l = lows[i] !== undefined ? lows[i] : c;
        return { x: i, y: [Math.min(l, opens[i], c), Math.max(h, opens[i], c)] };
    });
}

function getLevelDatasets() {
    let sets = [];
    levelPrices.forEach((p, k) => {
        sets.push({
            type: 'line',
            data: [{ x: xMin, y: p }, { x: xMax, y: p }],
            borderColor: levelColors[k],
            borderWidth: 1,
            borderDash: levelSolid[k] ? [] : [18, 6],
            pointRadius: 0,
            order: 5
        });
    });
    return sets;
}

const xTicks = [1];
for (let v = 17; v <= xMax; v += 16) {
    xTicks.push(v);
}

function isLabelTick(v) {
    return (v - 1) % 32 === 0 && (v - 1) / 32 < timeLabels.length;
}

const frame = {
    id: 'frame',
    afterDraw(chart) {
        const { ctx, chartArea } = chart;
        ctx.save();
        ctx.strokeStyle = '#000000';
        ctx.lineWidth = 1.5;
        ctx.beginPath();
        ctx.moveTo(chartArea.left - 0.5, chartArea.bottom);
        ctx.lineTo(chartArea.left - 0.5, chartArea.top - 0.5);
        ctx.lineTo(chartArea.right, chartArea.top - 0.5);
        ctx.stroke();
        ctx.strokeStyle = '#a0a0a0';
        ctx.lineWidth = 2;
        ctx.strokeRect(1, 1, chart.width - 2, chart.height - 2);

        // header line
        ctx.fillStyle = '#000000';
        ctx.beginPath();
        ctx.moveTo(9, 16);
        ctx.lineTo(20, 16);
        ctx.lineTo(14.5, 22);
        ctx.closePath();
        ctx.fill();
        ctx.font = '18px ' + FONT;
        ctx.textBaseline = 'middle';
        ctx.textAlign = 'left';
        const head = `${symbol},${timeframe}  ${lastOpen.toFixed(2)} ${highs[last].toFixed(2)} ${lows[last].toFixed(2)} ${closes[last].toFixed(2)}`;
        ctx.fillText(head, 32, 19.5);
        ctx.restore();
    }
};

const levelLabels = {
    id: 'levelLabels',
    afterDatasetsDraw(chart) {
        const { ctx, scales: { x, y } } = chart;
        ctx.save();
        ctx.font = '21px ' + FONT;
        ctx.textAlign = 'center';
        ctx.textBaseline = 'middle';
        levelPrices.forEach((p, k) => {
            ctx.fillStyle = levelColors[k];
            ctx.fillText(levelNames[k], x.getPixelForValue(labelBar), y.getPixelForValue(p) + 11.5);
        });
        ctx.restore();
    }
};

const priceBoxes = {
    id: 'priceBoxes',
    afterDraw(chart) {
        const { ctx, chartArea, scales: { y } } = chart;
        const left = chartArea.right + 1;
        ctx.save();
        ctx.font = '18px ' + FONT;
        ctx.textAlign = 'left';
        ctx.textBaseline = 'middle';
        const box = (price, bg) => {
            const py = y.getPixelForValue(price);
            if (py < chartArea.top || py > chartArea.bottom) return;
            ctx.fillStyle = bg;
            ctx.fillRect(left, Math.round(py - 6), 80, 23);
            ctx.fillStyle = '#ffffff';
            ctx.fillText(price.toFixed(2), left + 7, py + 5.5);
        };
        box(closes[last], '#000000');
        levelPrices.forEach((p, k) => box(p, levelColors[k]));
        ctx.restore();
    }
};

function initChart() {
    const ctx = document.getElementById('myChart');
    const myChart = new Chart(ctx, {
        type: 'bar',
        data: {
            datasets: [
                {
                    type: 'bar',
                    data: getWicks(),
                    backgroundColor: '#000000',
                    borderWidth: 0,
                    barThickness: 1,
                    grouped: false,
                    inflateAmount: 0,
                    order: 12
                },
                {
                    type: 'bar',
                    data: getBodies(),
                    backgroundColor: closes.map((c, i) => c >= opens[i] ? '#ffffff' : '#000000'),
                    borderColor: '#000000',
                    borderWidth: 1,
                    borderSkipped: false,
                    barThickness: 3,
                    minBarLength: 1,
                    grouped: false,
                    inflateAmount: 0,
                    order: 11
                },
                {
                    type: 'line',
                    data: [{ x: xMin, y: closes[last] }, { x: xMax, y: closes[last] }],
                    borderColor: '#c0c0c0',
                    borderWidth: 1,
                    pointRadius: 0,
                    order: 6
                },
                ...getLevelDatasets(),
                {
                    type: 'line',
                    data: crossBar.map((b, i) => ({ x: b, y: crossPrice[i] })),
                    showLine: false,
                    pointStyle: 'crossRot',
                    pointRadius: 21,
                    pointBorderWidth: 5,
                    pointBorderColor: 'rgba(228, 58, 58, 0.8)',
                    order: 0
                },
                {
                    type: 'line',
                    data: shiftBar.map((b, i) => ({ x: b, y: shiftPrice[i] })),
                    showLine: false,
                    pointStyle: 'triangle',
                    rotation: 180,
                    pointRadius: 9,
                    pointBorderWidth: 0,
                    pointBackgroundColor: '#a0a0a0',
                    order: 0
                }
            ]
        },
        options: {
            responsive: false,
            devicePixelRatio: 1,
            animation: false,
            events: [],
            layout: { autoPadding: false, padding: { left: 4, top: 4, right: 0, bottom: 0 } },
            scales: {
                x: {
                    type: 'linear',
                    min: xMin,
                    max: xMax,
                    bounds: 'data',
                    offset: false,
                    afterBuildTicks: (scale) => {
                        scale.ticks = xTicks.map(v => ({ value: v }));
                    },
                    afterFit: (scale) => {
                        scale.height = 36;
                        scale.paddingLeft = 0;
                        scale.paddingRight = 0;
                    },
                    ticks: {
                        autoSkip: false,
                        maxRotation: 0,
                        minRotation: 0,
                        align: 'start',
                        padding: 1,
                        font: { size: 18 },
                        color: '#000000',
                        callback: (v) => isLabelTick(v) ? timeLabels[(v - 1) / 32] : ''
                    },
                    grid: {
                        color: (c) => (c.tick && c.tick.value === 1) ? 'rgba(0,0,0,0)' : '#bcbcbc',
                        lineWidth: 1,
                        drawTicks: true,
                        tickLength: 5,
                        tickWidth: 1.5,
                        tickColor: (c) => (c.tick && isLabelTick(c.tick.value)) ? '#000000' : 'rgba(0,0,0,0)'
                    },
                    border: { display: true, color: '#000000', width: 2, dash: [4, 3] }
                },
                y: {
                    type: 'linear',
                    position: 'right',
                    min: yMin,
                    max: yMax,
                    bounds: 'data',
                    afterBuildTicks: (scale) => {
                        scale.ticks = priceTicks.map(v => ({ value: v }));
                    },
                    afterFit: (scale) => {
                        scale.width = 92;
                        scale.paddingTop = 0;
                        scale.paddingBottom = 0;
                    },
                    ticks: {
                        autoSkip: false,
                        padding: 8,
                        font: { size: 18 },
                        color: '#000000',
                        callback: (v) => Number(v).toFixed(2)
                    },
                    grid: {
                        color: '#bcbcbc',
                        lineWidth: 1,
                        drawTicks: false
                    },
                    border: { display: true, color: '#000000', width: 2, dash: [4, 3] }
                }
            },
            plugins: {
                legend: { display: false },
                tooltip: { enabled: false },
                title: { display: false }
            }
        },
        plugins: [levelLabels, frame, priceBoxes]
    });
}

initChart();
</script>
</body>
</html>
